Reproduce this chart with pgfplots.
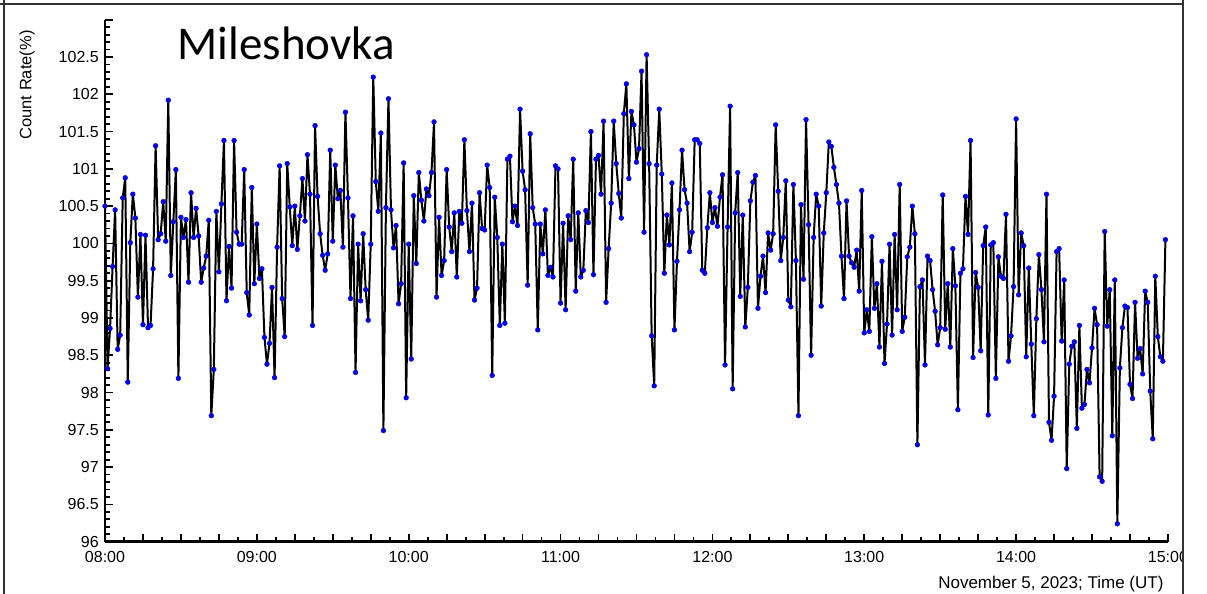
\documentclass[border=0pt]{standalone}
\usepackage{pgfplots}
\usepackage{pgfplotstable}
\pgfplotsset{compat=1.18}
\usepackage{fontspec}
\setmainfont{Liberation Sans}
\newfontfamily\titlefont{Carlito}

% Neutron monitor count rate, one value per minute from 08:00 UT
\pgfplotstableread[row sep=\\]{
v\\
100.50\\ 98.32\\ 98.86\\ 99.69\\ 100.45\\ 98.58\\ 98.77\\ 100.61\\ 100.88\\ 98.14\\
100.01\\ 100.66\\ 100.34\\ 99.28\\ 100.12\\ 98.91\\ 100.11\\ 98.87\\ 98.90\\ 99.66\\
101.31\\ 100.05\\ 100.13\\ 100.56\\ 100.03\\ 101.92\\ 99.57\\ 100.29\\ 100.99\\ 98.19\\
100.35\\ 100.08\\ 100.32\\ 99.48\\ 100.68\\ 100.08\\ 100.47\\ 100.10\\ 99.48\\ 99.67\\
99.83\\ 100.31\\ 97.69\\ 98.31\\ 100.43\\ 99.62\\ 100.53\\ 101.38\\ 99.23\\ 99.96\\
99.40\\ 101.38\\ 100.15\\ 99.99\\ 99.99\\ 100.99\\ 99.34\\ 99.04\\ 100.75\\ 99.46\\
100.26\\ 99.53\\ 99.66\\ 98.74\\ 98.38\\ 98.66\\ 99.41\\ 98.20\\ 99.95\\ 101.04\\
99.26\\ 98.75\\ 101.07\\ 100.49\\ 99.97\\ 100.50\\ 99.92\\ 100.37\\ 100.87\\ 100.30\\
101.19\\ 100.66\\ 98.90\\ 101.58\\ 100.63\\ 100.13\\ 99.84\\ 99.64\\ 99.86\\ 101.25\\
100.03\\ 101.05\\ 100.60\\ 100.71\\ 99.95\\ 101.76\\ 100.61\\ 99.26\\ 100.37\\ 98.27\\
99.99\\ 99.23\\ 100.13\\ 99.38\\ 98.97\\ 99.99\\ 102.23\\ 100.83\\ 100.43\\ 101.48\\
97.49\\ 100.48\\ 101.94\\ 100.45\\ 99.94\\ 100.24\\ 99.19\\ 99.46\\ 101.08\\ 97.93\\
99.99\\ 98.45\\ 100.64\\ 99.73\\ 100.95\\ 100.58\\ 100.30\\ 100.73\\ 100.64\\ 100.95\\
101.63\\ 99.28\\ 100.35\\ 99.57\\ 99.77\\ 100.99\\ 100.22\\ 99.89\\ 100.41\\ 99.55\\
100.43\\ 100.27\\ 101.39\\ 100.44\\ 99.89\\ 100.54\\ 99.24\\ 99.40\\ 100.68\\ 100.20\\
100.18\\ 101.05\\ 100.75\\ 98.23\\ 100.62\\ 100.08\\ 98.90\\ 99.99\\ 98.93\\ 101.13\\
101.17\\ 100.29\\ 100.50\\ 100.24\\ 101.80\\ 100.97\\ 100.72\\ 99.44\\ 101.47\\ 100.48\\
100.26\\ 98.84\\ 100.26\\ 99.86\\ 100.45\\ 99.57\\ 99.68\\ 99.55\\ 101.04\\ 101.00\\
99.20\\ 100.27\\ 99.11\\ 100.37\\ 100.05\\ 101.13\\ 99.36\\ 100.41\\ 99.55\\ 99.64\\
100.44\\ 100.28\\ 101.50\\ 99.58\\ 101.13\\ 101.18\\ 100.66\\ 101.64\\ 99.21\\ 99.93\\
100.54\\ 101.64\\ 101.07\\ 100.67\\ 100.34\\ 101.74\\ 102.14\\ 100.87\\ 101.77\\ 101.59\\
101.09\\ 101.27\\ 102.31\\ 100.15\\ 102.53\\ 101.07\\ 98.76\\ 98.09\\ 101.05\\ 101.80\\
100.93\\ 99.60\\ 100.38\\ 99.98\\ 100.81\\ 98.84\\ 99.76\\ 100.45\\ 101.25\\ 100.72\\
100.54\\ 99.89\\ 100.15\\ 101.39\\ 101.39\\ 101.34\\ 99.64\\ 99.60\\ 100.21\\ 100.68\\
100.28\\ 100.48\\ 100.23\\ 100.62\\ 100.92\\ 98.37\\ 100.22\\ 101.84\\ 98.05\\ 100.41\\
100.95\\ 99.29\\ 100.38\\ 98.88\\ 99.41\\ 100.57\\ 100.82\\ 100.91\\ 99.13\\ 99.56\\
99.83\\ 99.34\\ 100.14\\ 99.91\\ 100.13\\ 101.59\\ 100.70\\ 99.77\\ 100.08\\ 100.84\\
99.24\\ 99.15\\ 100.79\\ 99.77\\ 97.69\\ 100.52\\ 99.52\\ 101.66\\ 100.25\\ 98.50\\
100.08\\ 100.66\\ 100.50\\ 99.16\\ 100.14\\ 100.68\\ 101.36\\ 101.30\\ 101.02\\ 100.79\\
100.54\\ 99.83\\ 99.26\\ 100.57\\ 99.83\\ 99.74\\ 99.68\\ 99.91\\ 99.36\\ 100.71\\
98.80\\ 99.11\\ 98.82\\ 100.09\\ 99.13\\ 99.46\\ 98.61\\ 99.76\\ 98.39\\ 98.92\\
99.99\\ 98.77\\ 100.12\\ 99.11\\ 100.79\\ 98.82\\ 99.01\\ 99.82\\ 99.95\\ 100.50\\
100.13\\ 97.30\\ 99.42\\ 99.51\\ 98.37\\ 99.83\\ 99.77\\ 99.38\\ 99.09\\ 98.64\\
98.87\\ 100.65\\ 98.85\\ 99.46\\ 98.61\\ 99.93\\ 99.43\\ 97.77\\ 99.60\\ 99.66\\
100.63\\ 100.12\\ 101.38\\ 98.47\\ 99.61\\ 99.41\\ 98.56\\ 99.97\\ 100.22\\ 97.70\\
99.98\\ 100.01\\ 98.19\\ 99.82\\ 99.56\\ 99.53\\ 100.39\\ 98.42\\ 98.76\\ 99.42\\
101.67\\ 99.31\\ 100.14\\ 99.97\\ 98.48\\ 99.67\\ 98.65\\ 97.69\\ 98.99\\ 99.85\\
99.38\\ 98.68\\ 100.66\\ 97.60\\ 97.36\\ 97.95\\ 99.89\\ 99.93\\ 98.69\\ 99.51\\
96.98\\ 98.38\\ 98.62\\ 98.68\\ 97.52\\ 98.90\\ 97.79\\ 97.84\\ 98.31\\ 98.13\\
98.60\\ 99.13\\ 98.91\\ 96.87\\ 96.81\\ 100.16\\ 98.89\\ 99.38\\ 97.42\\ 99.51\\
96.24\\ 98.33\\ 98.87\\ 99.16\\ 99.14\\ 98.11\\ 97.92\\ 99.21\\ 98.46\\ 98.59\\
98.25\\ 99.36\\ 99.21\\ 98.02\\ 97.38\\ 99.56\\ 98.75\\ 98.48\\ 98.42\\ 100.05\\
}\countrate

\begin{document}
\begin{tikzpicture}[x=1pt,y=1pt]
\path[use as bounding box] (0,0) rectangle (1207,594);
\begin{axis}[
  at={(105pt,52.3pt)}, anchor=south west,
  scale only axis, width=1063pt, height=522pt,
  xmin=0, xmax=420, ymin=96, ymax=103,
  axis lines*=left,
  axis line style={line width=2.6pt, black},
  tick align=inside,
  xtick={0,15,...,420},
  xticklabels={08:00,,,,09:00,,,,10:00,,,,11:00,,,,12:00,,,,13:00,,,,14:00,,,,15:00},
  minor x tick num=1,
  ytick={96,96.5,...,103},
  yticklabels={96,96.5,97,97.5,98,98.5,99,99.5,100,100.5,101,101.5,102,102.5,{}},
  minor y tick num=4,
  major tick length=8pt, minor tick length=4.5pt,
  every tick/.style={black, line width=1.8pt},
  tick label style={font=\fontsize{16}{19}\selectfont},
  yticklabel style={xshift=-2.7pt},
  xticklabel style={yshift=-5.7pt},
]
\addplot[black, line width=2pt, line join=round, mark=*, mark size=2.4pt,
  mark options={fill=blue, draw=blue!70!black, line width=0.4pt}]
  table[x expr=\coordindex, y=v]{\countrate};
\end{axis}
\node[anchor=base west, font=\titlefont\fontsize{47}{56}\selectfont] at (174,534) {Mileshovka};
\node[rotate=90, font=\fontsize{16.5}{19}\selectfont] at (27,509) {Count Rate(\%)};
\node[anchor=base east, font=\fontsize{17}{20}\selectfont] at (1167,5) {November 5, 2023; Time (UT)};
\fill[white] (1184,0) rectangle (1207,594);
\draw[line width=1.3pt, black!80] (0,590) -- (1183,590);
\draw[line width=1.3pt, black!80] (4,0) -- (4,594);
\draw[line width=1.3pt, black!80] (1183,0) -- (1183,594);
\end{tikzpicture}
\end{document}
